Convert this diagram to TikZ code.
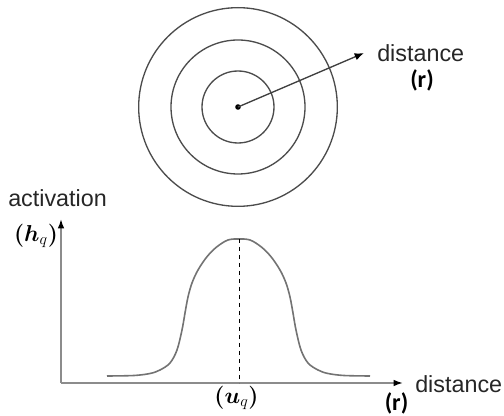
\documentclass[tikz,border=0pt]{standalone}
\usepackage{fontspec}
\usepackage{bm}
\setmainfont{Liberation Sans}
\newfontfamily\calib{Carlito}
\usetikzlibrary{arrows.meta}
\begin{document}
\begin{tikzpicture}[x=0.75pt,y=-0.75pt,
  ring/.style={draw=black!70,line width=1pt,circle,inner sep=0pt},
  axisline/.style={draw=black!45,line width=1.3pt,-{Latex[length=7pt,width=5pt,color=black]}},
  lbl/.style={inner sep=0pt,font=\fontsize{17.5}{20}\selectfont,text=black!85},
  rlbl/.style={inner sep=0pt,font=\calib\bfseries\fontsize{18}{20}\selectfont},
  mlbl/.style={inner sep=0pt,font=\fontsize{17}{20}\selectfont},
  bell/.style={draw=black!55,line width=1.2pt}]
\useasboundingbox (0,0) rectangle (504,416);
% rings
\coordinate (c) at (238,107);
\node[ring,minimum size=54pt] (r1) at (c) {};
\node[ring,minimum size=100.5pt] (r2) at (c) {};
\node[ring,minimum size=149pt] (r3) at (c) {};
\fill[black] (c) circle (2.8);
\coordinate (tip) at (364,53);
\draw[draw=black!75,line width=1pt,-{Latex[length=7pt,width=5.5pt,color=black]}] (c) -- (tip);
\node[lbl,anchor=west] (dtop) at (377,53) {distance};
\node[rlbl] (rtop) at (422,80) {(r)};
% axes
\coordinate (o) at (61,383);
\coordinate (ytip) at (61,219);
\coordinate (xtip) at (403,383);
\draw[axisline] (o) -- (ytip);
\draw[axisline] (o) -- (xtip);
\node[lbl,anchor=west] (act) at (8,198) {activation};
\node[mlbl] (hq) at (36,236) {$\bm{(}\bm{h}_q\bm{)}$};
\node[lbl,anchor=west] (dbot) at (415,384) {distance};
\node[rlbl] (rbot) at (396.5,403) {(r)};
\node[mlbl] (uq) at (236.5,398) {$\bm{(}\bm{u}_q\bm{)}$};
% bell curve
\coordinate (peak) at (239,239);
\coordinate (foot) at (239,383);
\draw[bell] plot[smooth,tension=0.55] coordinates {
 (107,376) (134,375.5) (150,373.5) (160,370) (170,363) (177,350) (182,330)
 (185,313) (188,297) (192,283) (198,270) (207,256.7) (217,246.7) (228,240) (239,239)
 (250,240) (261,246.7) (271,256.7) (280,270) (286,283) (290,297) (293,313)
 (296,330) (301,350) (308,363) (318,370) (328,373.5) (344,375.5) (370,376)};
\draw[dashed,line width=0.7pt] (peak) -- (foot);
\end{tikzpicture}
\end{document}
